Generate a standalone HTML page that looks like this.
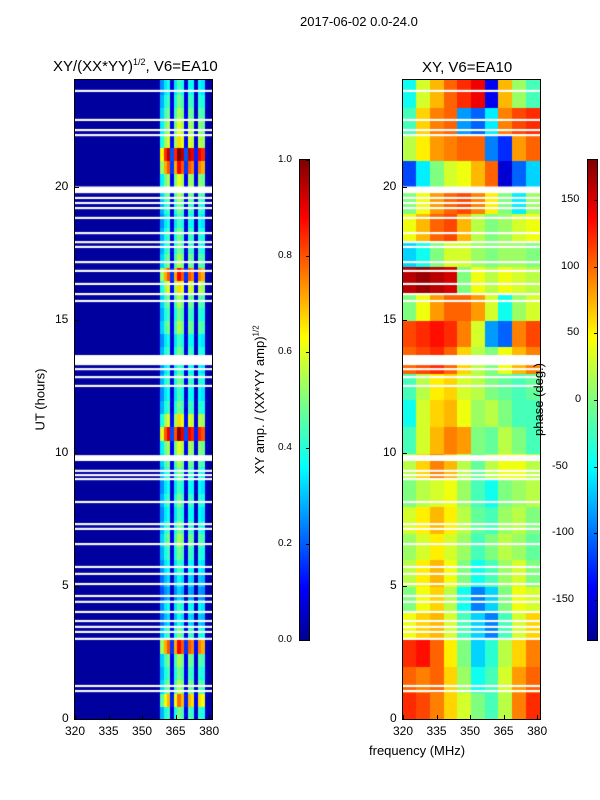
<!DOCTYPE html>
<html><head><meta charset="utf-8">
<style>
body{margin:0;background:#fff;font-family:"Liberation Sans",sans-serif;}
#wrap{position:relative;width:600px;height:800px;overflow:hidden;}
.t{position:absolute;font-size:13px;color:#000;white-space:nowrap;z-index:5;}
.tk{position:absolute;font-size:12px;color:#000;white-space:nowrap;}
canvas{position:absolute;}
.ax{position:absolute;border:1px solid #000;box-sizing:border-box;}
</style></head><body>
<div id="wrap">
<div class="t" style="left:300px;top:14px;">2017-06-02 0.0-24.0</div>
<div class="t" style="left:53px;top:57px;font-size:15px;">XY/(XX*YY)<sup style="font-size:9px">1/2</sup>, V6=EA10</div>
<div class="t" style="left:422px;top:59px;font-size:15px;">XY, V6=EA10</div>
<div class="t" style="left:9px;top:392px;transform:rotate(-90deg);">UT (hours)</div>
<div class="t" style="left:369px;top:743px;">frequency (MHz)</div>
<div class="t" style="left:185px;top:392px;transform:rotate(-90deg);">XY amp. / (XX*YY amp)<sup style="font-size:8px">1/2</sup></div>
<div class="t" style="left:502px;top:392px;transform:rotate(-90deg);">phase (deg.)</div>
<canvas id="c1" width="137" height="639" style="left:75px;top:80px;"></canvas>
<canvas id="c2" width="137" height="639" style="left:403px;top:80px;"></canvas>
<div class="ax" style="left:74px;top:79px;width:139px;height:641px;"></div>
<div class="ax" style="left:402px;top:79px;width:139px;height:641px;"></div>
<div class="ax" style="left:299px;top:159px;width:11px;height:482px;background:linear-gradient(to top,#00008f,#0000ff 11%,#00ffff 36%,#7fff7f 50%,#ffff00 63%,#ff0000 88%,#800000);"></div>
<div class="ax" style="left:587px;top:159px;width:11px;height:482px;background:linear-gradient(to top,#00008f,#0000ff 11%,#00ffff 36%,#7fff7f 50%,#ffff00 63%,#ff0000 88%,#800000);"></div>
<div id="ticks"></div>
</div>
<script>
const freqTicks=[320,335,350,365,380];
const hourTicks=[0,5,10,15,20];
const ampTicks=["0.0","0.2","0.4","0.6","0.8","1.0"];
const phaseTicks=[-150,-100,-50,0,50,100,150];
const ampChannelProfile=[0.03,0.03,0.03,0.03,0.03,0.03,0.03,0.03,0.03,0.03,0.03,0.03,0.03,0.03,0.03,0.03,0.03,0.03,0.03,0.03,0.03,0.03,0.03,0.03,0.05,0.6,0.8,0.9,0.2,0.8,1.0,0.9,0.2,0.9,0.85,0.15,0.85,0.8,0.06,0.03];
const ampHalfHourLevel=[0.45,0.7,0.5,0.45,0.5,0.8,0.45,0.35,0.4,0.3,0.35,0.4,0.45,0.5,0.45,0.4,0.45,0.4,0.45,0.5,0.55,0.9,0.6,0.45,0.4,0.45,0.4,0.45,0.4,0.5,0.45,0.5,0.6,0.8,0.5,0.45,0.45,0.4,0.45,0.5,0.55,0.8,0.95,0.6,0.55,0.5,0.45,0.4];
const phaseHourly=[
[120,110,90,60,30,0,-20,20,90,120],
[100,90,100,60,10,-40,-20,30,80,100],
[120,130,100,50,0,-60,-30,20,60,90],
[40,60,70,30,-20,-60,-90,-20,30,60],
[0,40,60,20,-40,-90,-60,0,40,30],
[20,50,70,40,0,-40,-20,10,30,0],
[10,30,50,30,10,-20,0,20,10,-10],
[30,50,70,50,20,-10,-20,10,20,0],
[0,20,30,40,10,-20,-40,0,10,20],
[20,60,90,70,20,-10,20,40,40,20],
[-20,30,70,90,80,0,-10,20,0,-20],
[-40,30,60,70,40,10,20,0,-20,-20],
[-20,20,50,60,30,20,0,-10,-20,-10],
[100,110,120,100,60,20,0,40,70,90],
[110,120,130,120,90,30,-80,-100,90,110],
[0,40,80,100,100,80,30,-40,10,30],
[160,170,160,150,0,40,20,40,30,20],
[-60,-40,0,30,30,10,0,10,10,0],
[40,70,100,110,70,20,0,10,30,40],
[0,40,80,100,110,90,50,0,-50,10],
[-110,-50,0,30,40,70,100,-150,-100,-60],
[20,50,80,90,100,100,-90,-120,80,100],
[-20,60,90,100,-80,-100,-50,90,110,120],
[-40,30,70,100,120,140,-140,70,10,-20]];
const blankStart=[23.55,22.46,22.08,21.89,19.75,19.53,19.34,19.15,18.78,18.21,17.87,17.69,17.12,16.79,16.30,15.92,15.66,13.29,13.1,12.8,12.47,9.69,9.28,9.12,8.97,8.11,7.28,7.1,6.53,5.67,5.41,5.03,4.58,4.36,3.98,3.64,3.42,3.23,2.97,1.2,1.01];
const blankLen=[0.08,0.08,0.08,0.08,0.25,0.08,0.08,0.08,0.08,0.08,0.08,0.08,0.08,0.08,0.08,0.08,0.08,0.38,0.08,0.08,0.08,0.22,0.08,0.08,0.08,0.08,0.08,0.08,0.08,0.08,0.08,0.08,0.08,0.08,0.08,0.08,0.08,0.08,0.08,0.08,0.08];
const F0=320,F1=381.3,H0=0,H1=24,W=137,H=639;
function xs(f){return (f-F0)/(F1-F0)*W;}
function ys(h){return H-(h-H0)/(H1-H0)*H;}
function jet(v){v=Math.max(0,Math.min(1,v));
 const r=Math.max(0,Math.min(1,1.5-Math.abs(4*v-3))),g=Math.max(0,Math.min(1,1.5-Math.abs(4*v-2))),b=Math.max(0,Math.min(1,1.5-Math.abs(4*v-1)));
 return `rgb(${r*255|0},${g*255|0},${b*255|0})`;}
const c1=document.getElementById('c1').getContext('2d');
const chW=(F1-F0)/ampChannelProfile.length;
ampHalfHourLevel.forEach((lv,i)=>{
 ampChannelProfile.forEach((p,c)=>{
  const v=p<0.1?p:Math.min(1,p*lv*1.1);
  c1.fillStyle=jet(v);
  const x0=xs(F0+c*chW),x1=xs(F0+(c+1)*chW),y0=ys((i+1)*0.5),y1=ys(i*0.5);
  c1.fillRect(Math.floor(x0),Math.floor(y0),Math.ceil(x1-x0)+1,Math.ceil(y1-y0)+1);
 });
});
const c2=document.getElementById('c2').getContext('2d');
phaseHourly.forEach((row,h)=>{
 const cw=(F1-F0)/row.length;
 row.forEach((ph,c)=>{
  c2.fillStyle=jet((ph+180)/360);
  const x0=xs(F0+c*cw),x1=xs(F0+(c+1)*cw),y0=ys(h+1),y1=ys(h);
  c2.fillRect(Math.floor(x0),Math.floor(y0),Math.ceil(x1-x0)+1,Math.ceil(y1-y0)+1);
 });
});
[c1,c2].forEach(ctx=>{ctx.fillStyle='#fff';
 blankStart.forEach((s,i)=>{const y0=ys(s+blankLen[i]),y1=ys(s);ctx.fillRect(0,y0,W,Math.max(2,y1-y0));});});
const tk=document.getElementById('ticks');
function add(txt,l,t,name,extra){const d=document.createElement('div');d.className='tk';d.textContent=txt;d.style.left=l+'px';d.style.top=t+'px';if(extra)d.style.cssText+=extra;
 
 
 tk.appendChild(d);}
function mark(l,t,w,h,name){const d=document.createElement('div');d.style.cssText=`position:absolute;left:${l}px;top:${t}px;width:${w}px;height:${h}px;background:#000`;
 
 
 tk.appendChild(d);}
[75,403].forEach((ox,k)=>{
 freqTicks.forEach(f=>{const x=ox+xs(f);add(f,x-10,724,'x-tick-label');mark(x,715,1,4,'x-tick');});
 hourTicks.forEach(h=>{const y=80+ys(h);add(h,ox-(h>=10?20:13),y-8,'y-tick-label');mark(ox,y,4,1,'y-tick');});
});
ampTicks.forEach((t,i)=>{const y=640-i*96;add(t,278,y-6,'amp-colorbar-tick-label','font-size:10px');mark(306,y,4,1,'amp-colorbar-tick');});
phaseTicks.forEach(p=>{const y=400-p/180*240;add(p,p<0?552:(p>=100?561:(p==0?575:567)),y-7,'phase-colorbar-tick-label','font-size:11px');mark(594,y,4,1,'phase-colorbar-tick');});
</script>
</body></html>
